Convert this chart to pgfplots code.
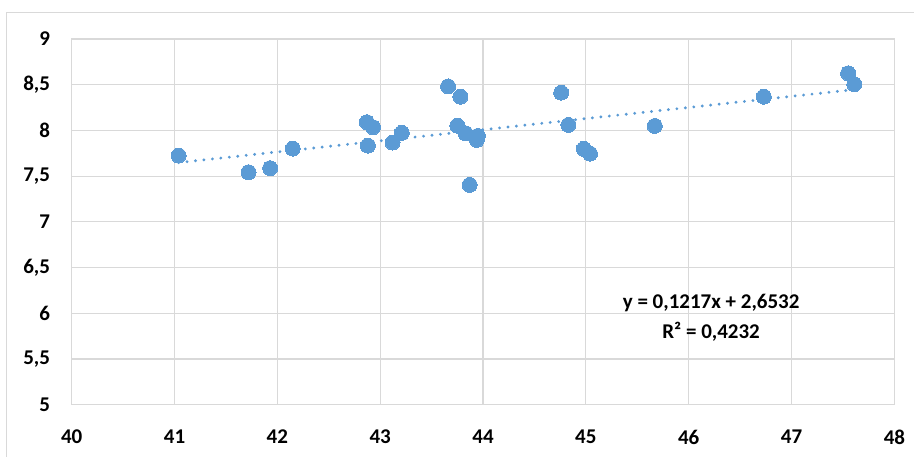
\documentclass[border=0pt]{standalone}
\usepackage{pgfplots}
\pgfplotsset{compat=1.18}
\usepackage{fontspec}
\setmainfont{Carlito}
\definecolor{ptblue}{HTML}{5B9BD5}
\definecolor{gridgray}{HTML}{D9D9D9}
\definecolor{txt}{HTML}{000000}
\begin{document}
\begin{tikzpicture}
\path (0,0) rectangle (457.5pt,228.5pt);
\draw[gridgray, line width=0.6pt] (3.35pt,0) -- (3.35pt,222.15pt) -- (457.5pt,222.15pt);
\begin{axis}[
  at={(35.85pt,26pt)}, anchor=south west,
  scale only axis, width=411.65pt, height=183pt,
  xmin=40, xmax=48, ymin=5, ymax=9,
  xtick={40,41,...,48},
  ytick={5,5.5,...,9},
  grid=major,
  major grid style={gridgray, line width=0.6pt},
  axis line style={gridgray, line width=0.6pt},
  major tick length=0pt,
  tick style={draw=none},
  tick label style={font=\fontsize{10.5}{12}\selectfont\bfseries, text=txt},
  /pgf/number format/assume math mode=true,
  /pgf/number format/use comma,
  yticklabel style={xshift=-7.3pt},
  xticklabel style={yshift=-9.2pt},
]
\addplot[ptblue, line width=1.6pt, line cap=round, dash pattern=on 0pt off 4.25pt]
  coordinates {(41.04,7.648) (47.61,8.447)};
\addplot[only marks, color=ptblue, mark=*, mark size=3.75pt, mark options={fill=ptblue, draw=ptblue, line width=0pt}]
  coordinates {
  (41.04,7.725) (41.72,7.543) (41.93,7.587) (42.15,7.801)
  (42.87,8.090) (42.88,7.834) (42.93,8.035) (43.12,7.867)
  (43.21,7.973) (43.66,8.481) (43.78,8.369) (43.75,8.052)
  (43.83,7.969) (43.95,7.940) (43.94,7.896) (43.87,7.404)
  (44.76,8.413) (44.83,8.060) (44.98,7.798) (45.04,7.746)
  (45.67,8.049) (46.73,8.369) (47.55,8.625) (47.61,8.505)
  };
\end{axis}
\node[font=\fontsize{10.5}{12}\selectfont\bfseries, text=txt] at (355.8pt,76.8pt) {y = 0,1217x + 2,6532};
\node[font=\fontsize{10.5}{12}\selectfont\bfseries, text=txt] at (355.8pt,62.7pt) {R² = 0,4232};
\end{tikzpicture}
\end{document}
